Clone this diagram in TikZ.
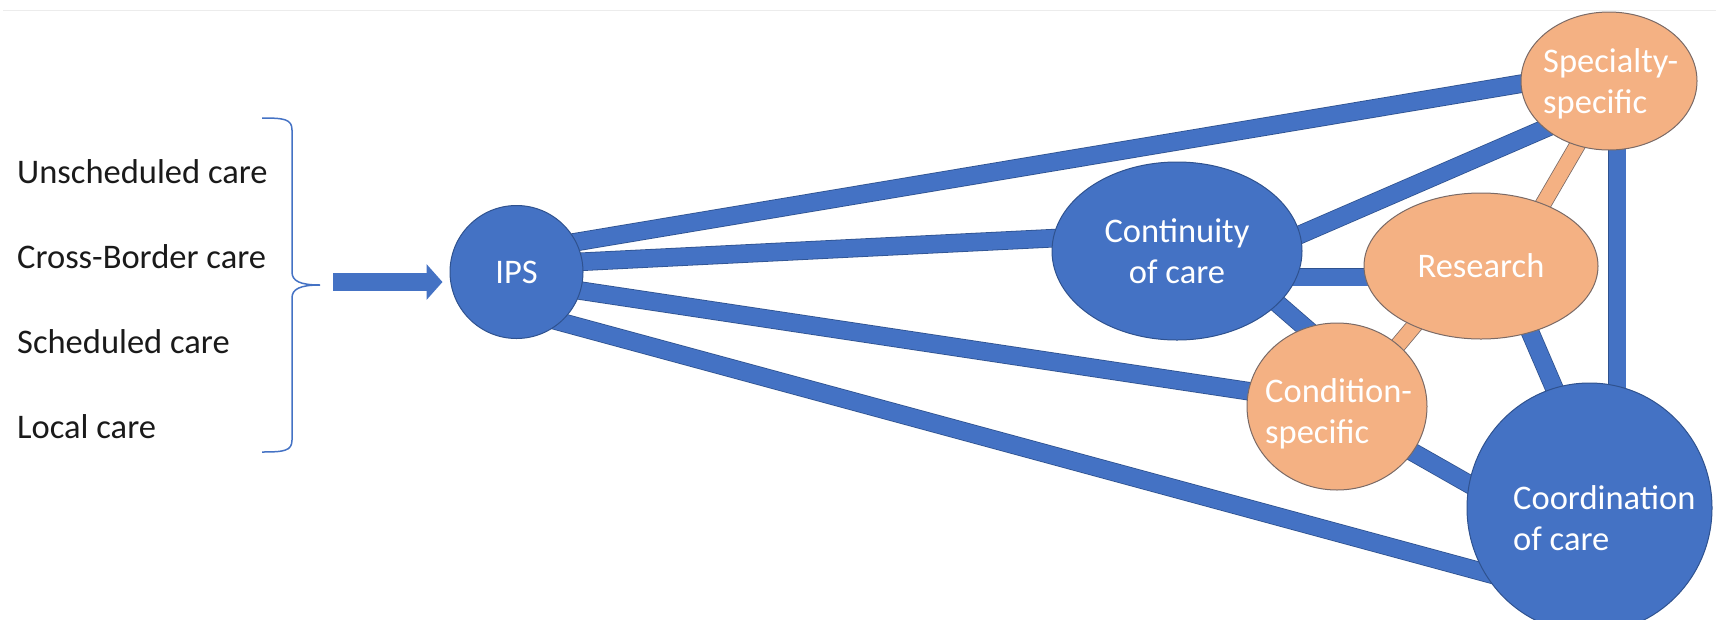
\documentclass[tikz,border=0pt]{standalone}
\usepackage{fontspec}
\setmainfont{Carlito}
\usetikzlibrary{shapes.geometric,arrows.meta,calc,backgrounds}
\definecolor{bluec}{HTML}{4472C4}
\definecolor{bord}{HTML}{2F528F}
\definecolor{oborder}{HTML}{7A6A66}
\definecolor{orangec}{HTML}{F4B183}
\definecolor{txtc}{HTML}{1A1A1A}
\definecolor{topgray}{HTML}{ECECEC}
\begin{document}
\begin{tikzpicture}[x=1pt,y=-1pt,
  font=\fontsize{34.5}{41}\selectfont,
  bnode/.style={ellipse, draw=bord, line width=1pt, fill=bluec, text=white, inner sep=0pt},
  onode/.style={ellipse, draw=oborder, line width=1pt, fill=orangec, text=white, inner sep=0pt},
  link/.style={draw=bord, line width=0.8pt, double=bluec, double distance=17pt},
  olink/.style={draw=oborder, line width=0.8pt, double=orangec, double distance=15pt},
  lefttxt/.style={anchor=base west, text=txtc, inner sep=0pt},
  intxt/.style={anchor=base west, align=left, text=white, inner sep=0pt},
  bracestyle/.style={draw=bluec, line width=1.5pt},
  bigarrow/.style={draw=bluec, line width=18pt, -{Triangle[length=16pt,width=35pt]}}
]
\useasboundingbox (0,0) rectangle (1716,619);
\coordinate (tl) at (3,10);
\coordinate (tr) at (1716,10);
\draw[topgray, line width=1pt] (tl) -- (tr);

% left texts
\node[lefttxt] (t1) at (17,183) {Unscheduled care};
\node[lefttxt] (t2) at (17,268) {Cross-Border care};
\node[lefttxt] (t3) at (17,353) {Scheduled care};
\node[lefttxt] (t4) at (17,438) {Local care};

% brace
\coordinate (brtip) at (320,285);
\draw[bracestyle] (262,118) .. controls (284,118) and (292,119) .. (292,130)
  -- (292,272) .. controls (292,281) and (300,285) .. (brtip)
  .. controls (300,285) and (292,289) .. (292,298)
  -- (292,440) .. controls (292,451) and (284,452) .. (262,452);

% nodes
\node[bnode, minimum width=133pt, minimum height=133pt] (ips) at (516.5,272) {IPS};
\node[bnode, minimum width=250pt, minimum height=178pt, align=center] (cont) at (1177,251) {Continuity\\of care};
\node[onode, minimum width=234pt, minimum height=146pt] (res) at (1481,266) {Research};
\node[onode, minimum width=176pt, minimum height=138pt] (spec) at (1609,81) {};
\node[onode, minimum width=180pt, minimum height=167pt] (cond) at (1337,406.5) {};
\node[bnode, minimum width=245pt, minimum height=250pt] (coord) at (1589.5,508) {};

\node[intxt] (spectxt) at (1543,113) {Specialty-\\specific};
\node[intxt] (condtxt) at (1265,443) {Condition-\\specific};
\node[intxt] (coordtxt) at (1513,550) {Coordination\\of care};

% input arrow
\coordinate (arrstart) at (333,282);
\draw[bigarrow, shorten >=7pt] (arrstart) -- (arrstart -| ips.west);

% connectors
\begin{scope}[on background layer]
\draw[link] ($(ips)+(0,-20)$) -- ($(spec)+(0,-12)$);
\draw[link] ($(ips)+(0,-7)$) -- ($(cont)+(0,-19)$);
\draw[link] ($(ips)+(0,9)$) -- ($(cond)+(0,-2)$);
\draw[link] ($(ips)+(0,38)$) -- ($(coord)+(0,93)$);
\draw[link] ($(cont)+(113,-12)$) -- ($(spec)+(-49,41)$);
\draw[link] ($(cont)+(100,26)$) -- ($(res)+(-80,11)$);
\draw[link] ($(cont)+(70,26)$) -- ($(cond)+(-10,-60)$);
\draw[link] ($(cond)+(43,27)$) -- ($(coord)+(-89,-6)$);
\draw[link] ($(res)+(34,31)$) -- ($(coord)+(-19,-82)$);
\draw[link] ($(spec)+(8,30)$) -- ($(coord)+(27.5,-60)$);
\draw[olink] ($(spec)+(-17,39)$) -- ($(res)+(47,-36)$);
\draw[olink] ($(cond)+(28,-22)$) -- ($(res)+(-36,23)$);
\end{scope}
\end{tikzpicture}
\end{document}
